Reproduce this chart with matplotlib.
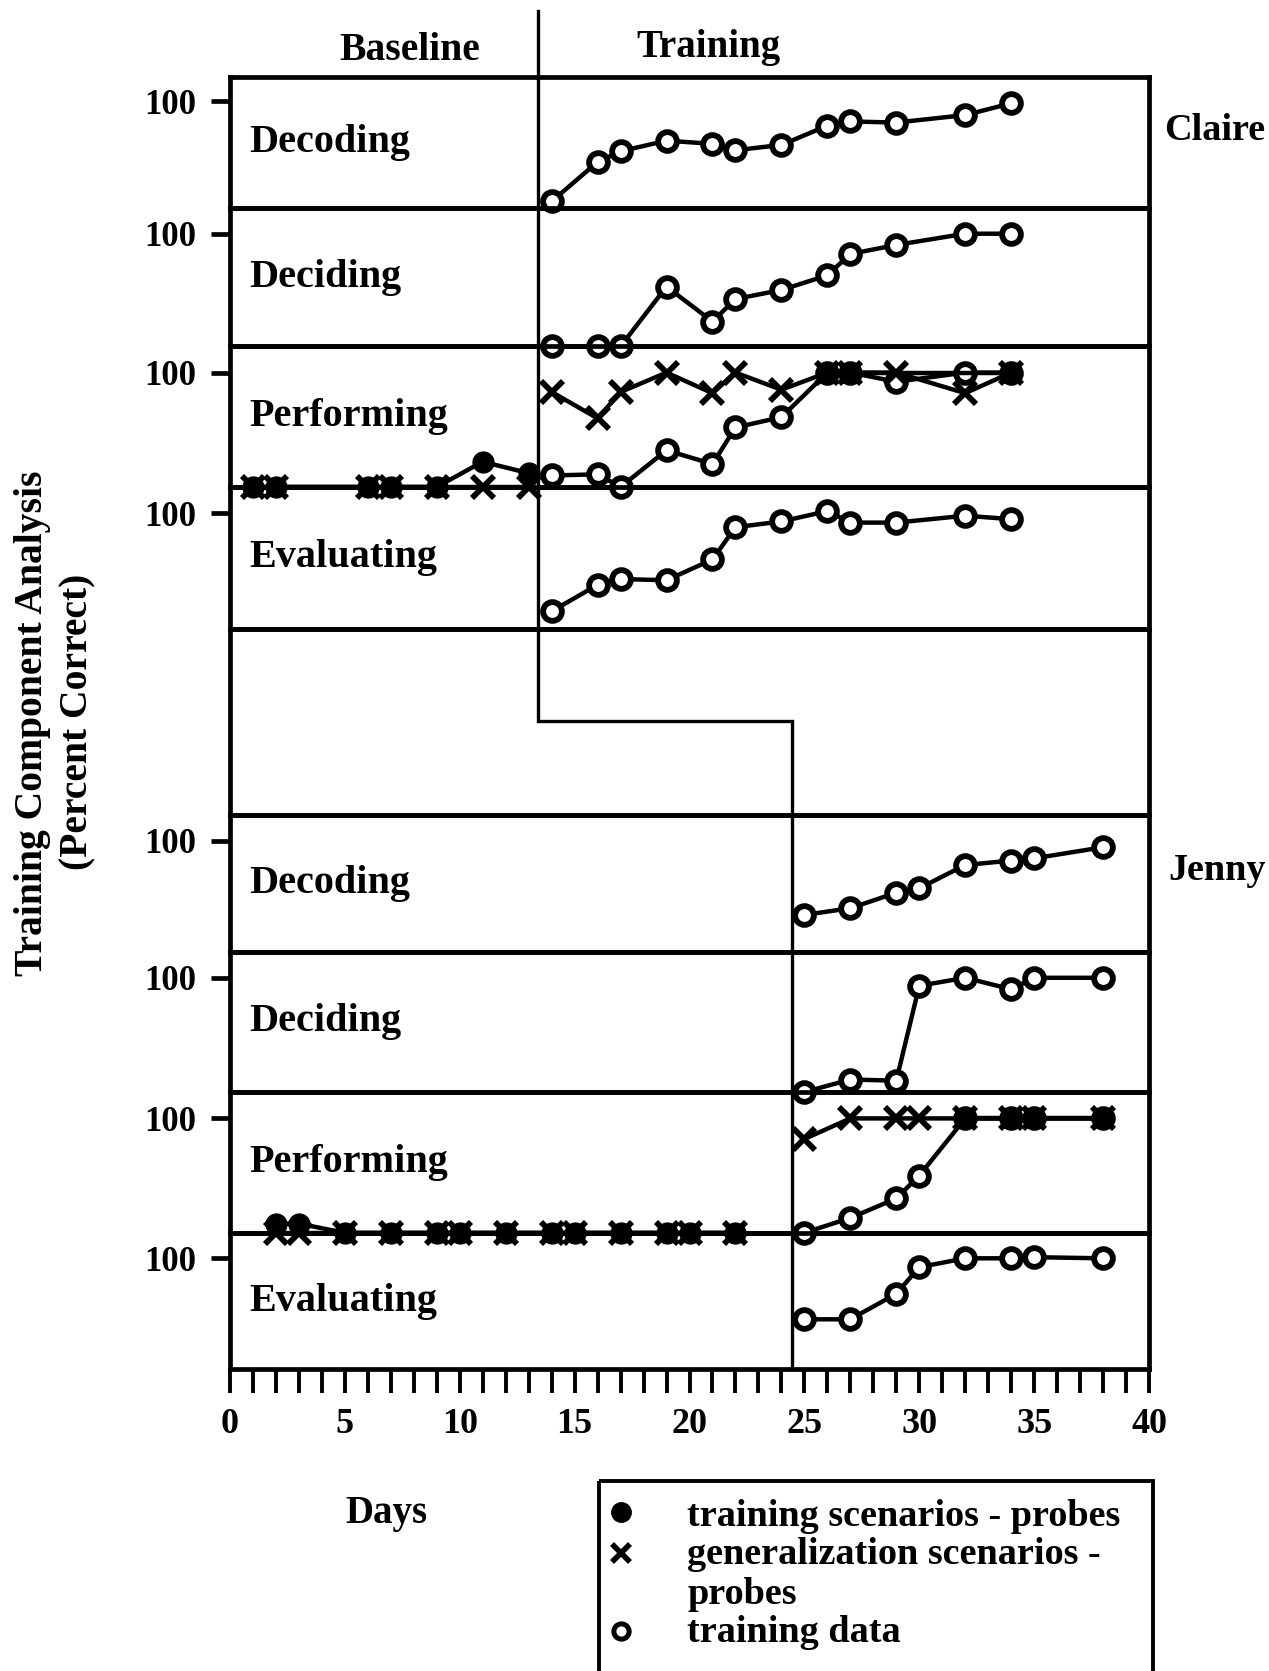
import matplotlib
matplotlib.use("Agg")
import matplotlib.pyplot as plt
from matplotlib.patches import Rectangle
import matplotlib.transforms as mtransforms

plt.rcParams['font.family'] = ['Liberation Serif', 'DejaVu Serif']
plt.rcParams['font.weight'] = 'bold'

# ---------------- data ----------------
components = ["Decoding", "Deciding", "Performing", "Evaluating"]
students = ["Claire", "Jenny"]
phase_labels = ["Baseline", "Training"]
legend_labels = ["training scenarios - probes",
                 "generalization scenarios -",
                 "probes",
                 "training data"]
x_label = "Days"
y_label_1 = "Training Component Analysis"
y_label_2 = "(Percent Correct)"

claire_phase_change = 13.4
jenny_phase_change = 24.45

claire_base_days = [1, 2, 6, 7, 9, 11, 13]
claire_base_perf_probes = [0, 0, 0, 0, 0, 22, 12]
claire_base_perf_general = [0, 0, 0, 0, 0, 0, 0]

claire_train_days = [14, 16, 17, 19, 21, 22, 24, 26, 27, 29, 32, 34]
claire_decoding = [6, 43, 53, 63, 60, 54, 59, 77, 81, 80, 87, 98]
claire_deciding = [0, 0, 0, 53, 22, 42, 50, 63, 82, 90, 100, 100]
claire_performing = [10, 11, 0, 32, 20, 52, 61, 100, 100, 92, 100, 100]
claire_perf_general = [83, 60, 83, 100, 82, 100, 85, 100, 100, 100, 82, 100]
claire_evaluating = [15, 38, 43, 42, 60, 88, 93, 102, 92, 92, 98, 95]
claire_probe_days = [26, 27, 34]
claire_perf_probes = [100, 100, 100]

jenny_base_days = [2, 3, 5, 7, 9, 10, 12, 14, 15, 17, 19, 20, 22]
jenny_base_perf_probes = [8, 8, 0, 0, 0, 0, 0, 0, 0, 0, 0, 0, 0]
jenny_base_perf_general = [0, 0, 0, 0, 0, 0, 0, 0, 0, 0, 0, 0, 0]

jenny_train_days = [25, 27, 29, 30, 32, 34, 35, 38]
jenny_decoding = [33, 39, 53, 57, 78, 82, 84, 94]
jenny_deciding = [0, 11, 10, 93, 100, 90, 100, 100]
jenny_performing = [0, 13, 30, 50, 100, 100, 100, 100]
jenny_perf_general = [82, 100, 100, 100, 100, 100, 100, 100]
jenny_evaluating = [45, 45, 68, 92, 100, 100, 101, 100]
jenny_probe_days = [32, 34, 35, 38]
jenny_perf_probes = [100, 100, 100, 100]

x_ticks = list(range(0, 41))
x_tick_labels = [str(v) if v % 5 == 0 else "" for v in x_ticks]

# ---------------- layout ----------------
W, H = 1269, 1671
fig = plt.figure(figsize=(W / 100, H / 100), dpi=100)
fig.patch.set_facecolor("white")
X0, X1 = 230, 1149
edges = [76.7, 207.8, 346.3, 486.9, 628.6, 815.1, 951.5, 1092.1, 1232.8, 1369.2]
YMAX = 123
FS = 27.5


def make_panel(i, with_tick=True):
    top, bot = edges[i], edges[i + 1]
    ax = fig.add_axes([X0 / W, 1 - bot / H, (X1 - X0) / W, (bot - top) / H])
    ax.set_xlim(0, 40)
    ax.set_ylim(0, YMAX)
    ax.patch.set_alpha(0)
    for s in ax.spines.values():
        s.set_linewidth(3.4)
    ax.set_xticks([])
    if with_tick:
        ax.set_yticks([100])
        ax.set_yticklabels(["100"])
        ax.tick_params(axis="y", length=14, width=3.4, pad=10, labelsize=25)
    else:
        ax.set_yticks([])
    return ax


def plot_open(ax, d, v):
    ax.plot(d, v, "-", color="k", lw=3.2, marker="o", ms=13.5, mfc="white",
            mec="k", mew=4.2, clip_on=False, zorder=3)


def plot_gen(ax, d, v):
    ax.plot(d, v, "-", color="k", lw=3.2, marker="x", ms=16, mew=4.2,
            clip_on=False, zorder=4)


def plot_probe(ax, d, v):
    ax.plot(d, v, "-", color="k", lw=3.2, marker="o", ms=15, mfc="k",
            mec="k", clip_on=False, zorder=5)


panels = []
for i in range(9):
    panels.append(make_panel(i, with_tick=(i != 4)))

claire_axes = panels[0:4]
jenny_axes = panels[5:9]

# Claire
plot_open(claire_axes[0], claire_train_days, claire_decoding)
plot_open(claire_axes[1], claire_train_days, claire_deciding)
plot_open(claire_axes[2], claire_train_days, claire_performing)
plot_gen(claire_axes[2], claire_train_days, claire_perf_general)
plot_probe(claire_axes[2], claire_probe_days, claire_perf_probes)
plot_gen(claire_axes[2], claire_base_days, claire_base_perf_general)
plot_probe(claire_axes[2], claire_base_days, claire_base_perf_probes)
plot_open(claire_axes[3], claire_train_days, claire_evaluating)

# Jenny
plot_open(jenny_axes[0], jenny_train_days, jenny_decoding)
plot_open(jenny_axes[1], jenny_train_days, jenny_deciding)
plot_open(jenny_axes[2], jenny_train_days, jenny_performing)
plot_gen(jenny_axes[2], jenny_train_days, jenny_perf_general)
plot_probe(jenny_axes[2], jenny_probe_days, jenny_perf_probes)
plot_gen(jenny_axes[2], jenny_base_days, jenny_base_perf_general)
plot_probe(jenny_axes[2], jenny_base_days, jenny_base_perf_probes)
plot_open(jenny_axes[3], jenny_train_days, jenny_evaluating)

# component labels
for axs in (claire_axes, jenny_axes):
    for ax, name in zip(axs, components):
        tr = mtransforms.blended_transform_factory(ax.transData, ax.transAxes)
        ax.text(0.85, 0.5, name, transform=tr, ha="left", va="center",
                fontsize=29, fontweight="bold")

# x axis on the bottom panel
bax = panels[-1]
bax.set_xticks(x_ticks)
bax.set_xticklabels(x_tick_labels)
bax.tick_params(axis="x", direction="out", length=17, width=2.8, pad=11,
                labelsize=26)

# phase change line (days on x, pixels on y)
ov = fig.add_axes([X0 / W, 0, (X1 - X0) / W, 1])
ov.set_xlim(0, 40)
ov.set_ylim(H, 0)
ov.axis("off")
ov.plot([claire_phase_change, claire_phase_change, jenny_phase_change, jenny_phase_change],
        [10.7, 721, 721, edges[-1]], color="k", lw=2.4, clip_on=False,
        solid_joinstyle="miter")

# pixel overlay for texts and legend
px = fig.add_axes([0, 0, 1, 1])
px.set_xlim(0, W)
px.set_ylim(H, 0)
px.axis("off")

px.text(410, 51, phase_labels[0], ha="center", va="center", fontsize=28.5)
px.text(708, 48, phase_labels[1], ha="center", va="center", fontsize=28)
px.text(1215, 131, students[0], ha="center", va="center", fontsize=FS)
px.text(1217, 870, students[1], ha="center", va="center", fontsize=FS)
px.text(386, 1513, x_label, ha="center", va="center", fontsize=28)
px.text(33, 723, y_label_1, ha="center", va="center", rotation=90, fontsize=28.5)
px.text(78, 722, y_label_2, ha="center", va="center", rotation=90, fontsize=28.5)

# legend
px.add_patch(Rectangle((599, 1481), 554, 260, fill=False, lw=2.8, clip_on=False))
px.plot([621], [1512], marker="o", ms=14, mfc="k", mec="k", ls="none")
px.plot([621], [1553], marker="x", ms=13, mew=4, color="k", ls="none")
px.plot([621], [1631], marker="o", ms=11, mfc="white", mec="k", mew=3.6, ls="none")
legend_rows = [1516, 1555, 1595, 1633]
for yy, lab in zip(legend_rows, legend_labels):
    px.text(687, yy, lab, ha="left", va="center", fontsize=FS)

fig.savefig("out.png", dpi=100, facecolor="white")
